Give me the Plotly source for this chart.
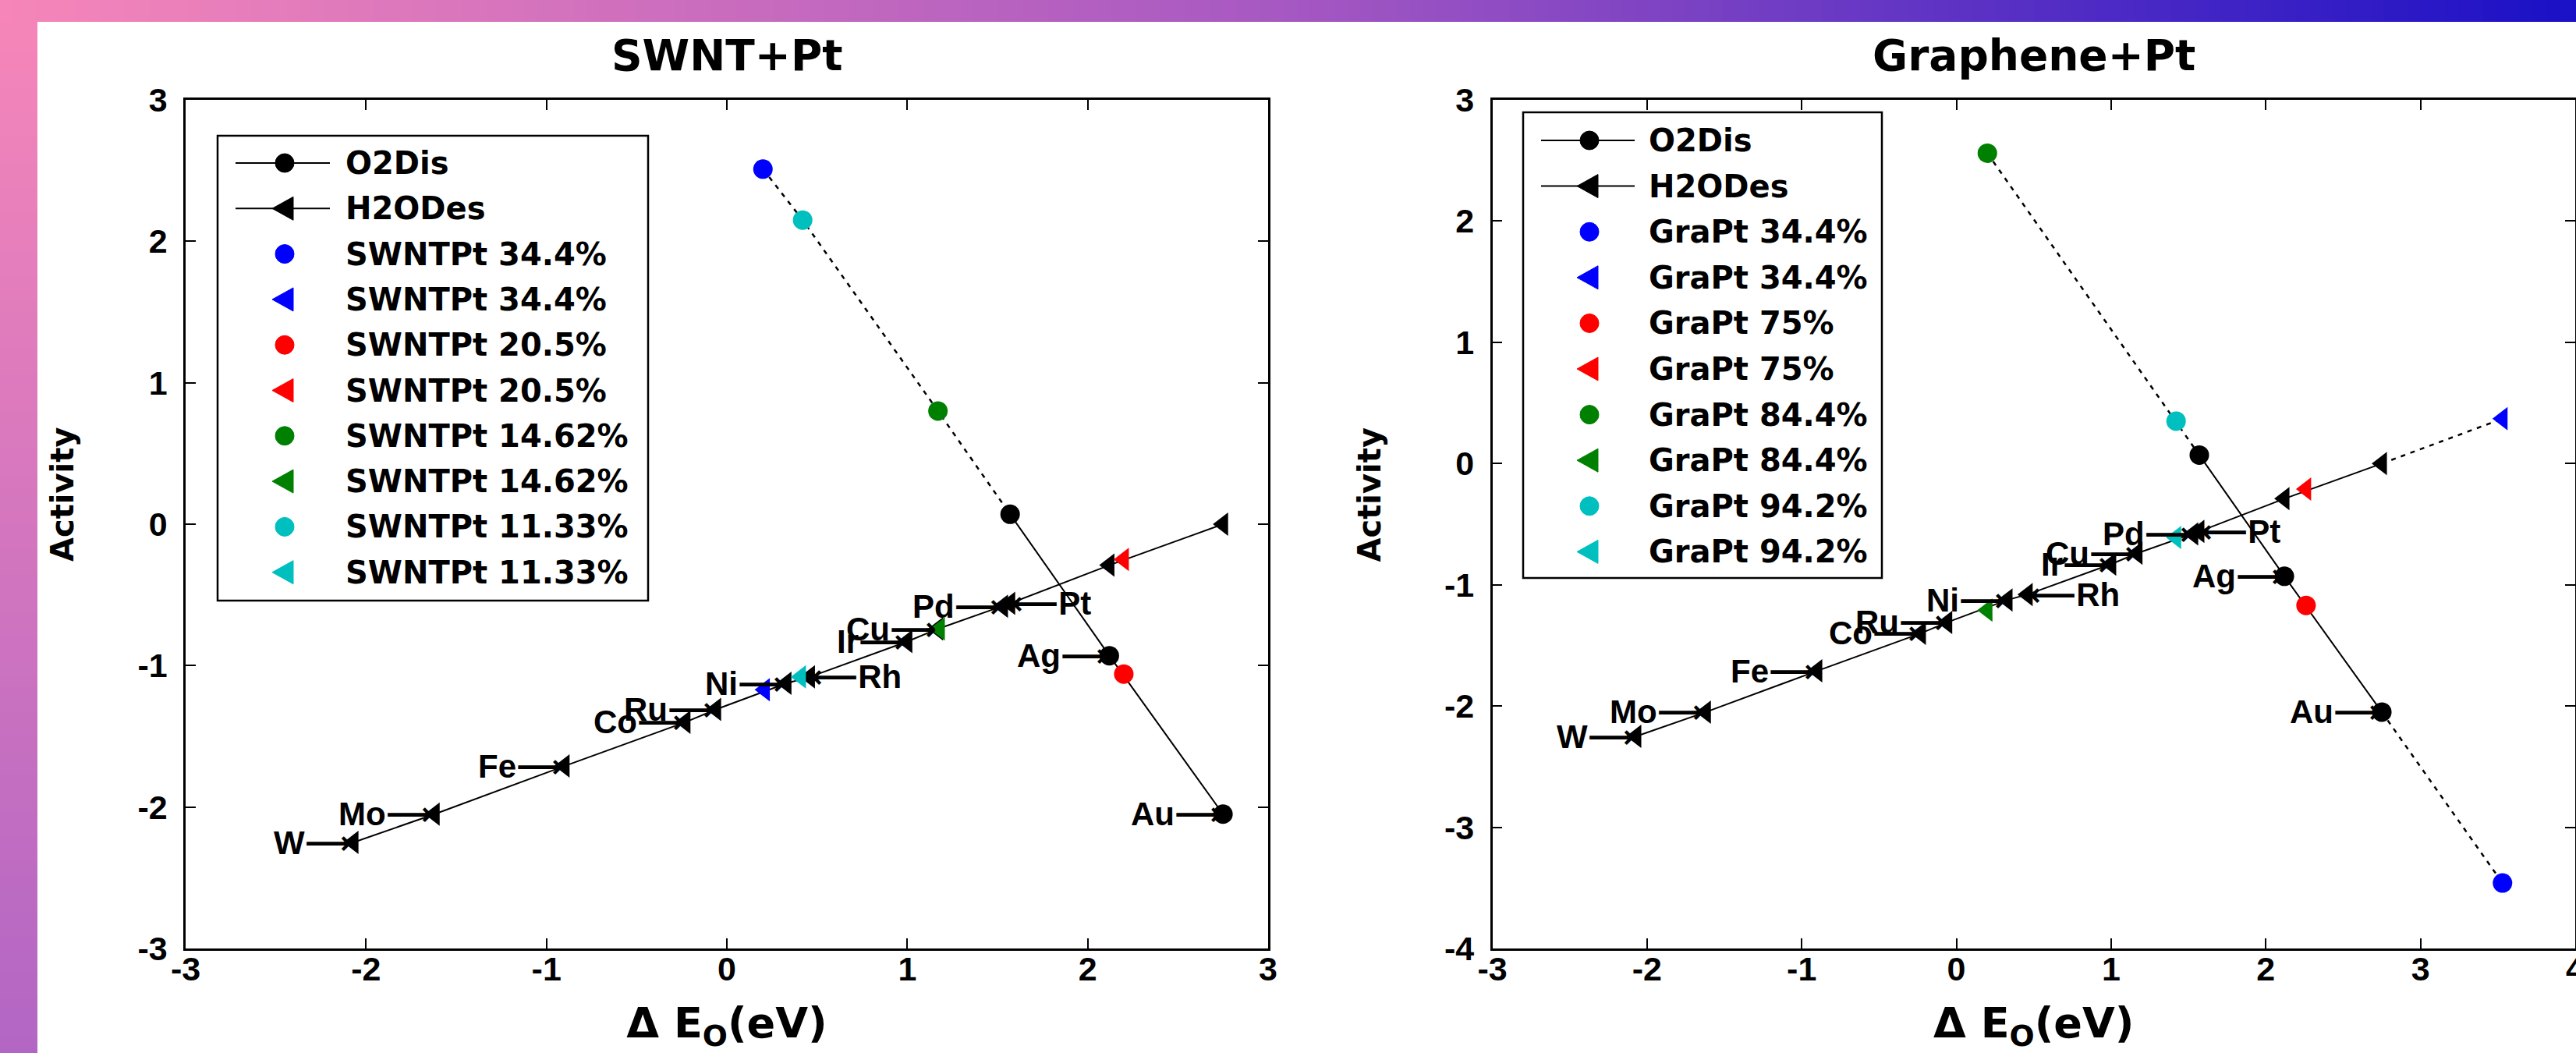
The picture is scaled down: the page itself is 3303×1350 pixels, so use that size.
import plotly.graph_objects as go

W, H = 3303, 1350

# ---------------- data ----------------
metals = ["W", "Mo", "Fe", "Co", "Ru", "Ni", "Rh", "Ir", "Cu", "Pd", "Pt", "Ag", "Au"]
h2odes_dEO = [-2.07, -1.62, -0.90, -0.23, -0.06, 0.33, 0.46, 1.00, 1.17, 1.53, 1.57, 2.12, 2.75]
h2odes_act = [-2.25, -2.05, -1.71, -1.40, -1.31, -1.125, -1.08, -0.83, -0.74, -0.58, -0.56, -0.29, 0.00]

o2dis_metals = ["Pt", "Ag", "Au"]
o2dis_dEO = [1.57, 2.12, 2.75]
o2dis_act = [0.07, -0.93, -2.05]

# metal labels: which curve they point at and on which side the label sits
label_metals = ["W", "Mo", "Fe", "Co", "Ru", "Ni", "Rh", "Ir", "Cu", "Pd", "Pt", "Ag", "Au"]
label_curve = ["H2ODes"] * 11 + ["O2Dis", "O2Dis"]
label_side = ["left"] * 6 + ["right"] + ["left"] * 3 + ["right"] + ["left", "left"]

sample_colors = ["#0000ff", "#ff0000", "#008000", "#00bfbf"]

swnt_names = ["SWNTPt 34.4%", "SWNTPt 20.5%", "SWNTPt 14.62%", "SWNTPt 11.33%"]
swnt_o2dis_dEO = [0.20, 2.20, 1.17, 0.42]
swnt_o2dis_act = [2.51, -1.06, 0.80, 2.15]
swnt_h2odes_dEO = [0.21, 2.20, 1.18, 0.41]
swnt_h2odes_act = [-1.17, -0.25, -0.74, -1.08]

gra_names = ["GraPt 34.4%", "GraPt 75%", "GraPt 84.4%", "GraPt 94.2%"]
gra_o2dis_dEO = [3.53, 2.26, 0.20, 1.42]
gra_o2dis_act = [-3.46, -1.17, 2.56, 0.35]
gra_h2odes_dEO = [3.53, 2.26, 0.20, 1.42]
gra_h2odes_act = [0.37, -0.21, -1.21, -0.61]

x_ticks_swnt = [-3, -2, -1, 0, 1, 2, 3]
y_ticks_swnt = [-3, -2, -1, 0, 1, 2, 3]
x_ticks_gra = [-3, -2, -1, 0, 1, 2, 3, 4]
y_ticks_gra = [-4, -3, -2, -1, 0, 1, 2, 3]

# ---------------- styling ----------------
TITLE_FONT = "DejaVu Sans"
TICK_FONT = "Liberation Sans"
LABEL_FONT = "Liberation Sans, DejaVu Sans"
LEG_FONT = "DejaVu Sans"


def px(x):
    return x / W


def py(y):
    return 1 - y / H


fig = go.Figure()
shapes = []
annotations = []

# ---------------- decorative gradient frame ----------------
TOP_BAND = 28
LEFT_BAND = 48
top_stops = [(0.0, (246, 134, 185)), (0.5, (166, 88, 194)), (1.0, (26, 16, 198))]
left_stops = [(0.0, (246, 134, 185)), (1.0, (178, 102, 196))]


def grad(stops, t):
    for (t0, c0), (t1, c1) in zip(stops[:-1], stops[1:]):
        if t <= t1:
            f = (t - t0) / (t1 - t0)
            return "rgb(%d,%d,%d)" % tuple(round(a + (b - a) * f) for a, b in zip(c0, c1))
    return "rgb(%d,%d,%d)" % stops[-1][1]


STEP = 16
for ys in range(0, H, STEP):
    shapes.append(dict(type="rect", xref="paper", yref="paper", x0=0, x1=px(LEFT_BAND),
                       y0=py(min(ys + STEP + 1, H)), y1=py(ys),
                       fillcolor=grad(left_stops, (ys + STEP / 2) / H),
                       line=dict(width=0), layer="below"))
for xs in range(0, W, STEP):
    shapes.append(dict(type="rect", xref="paper", yref="paper", x0=px(xs), x1=px(min(xs + STEP + 1, W)),
                       y0=py(TOP_BAND), y1=1,
                       fillcolor=grad(top_stops, (xs + STEP / 2) / W),
                       line=dict(width=0), layer="below"))

# ---------------- panels ----------------
panels = [
    dict(title="SWNT+Pt", xa="x", ya="y", xdom=(238, 1626), xr=[-3, 3], yr=[-3, 3],
         xt=x_ticks_swnt, yt=y_ticks_swnt,
         names=swnt_names, o2x=swnt_o2dis_dEO, o2y=swnt_o2dis_act,
         h2x=swnt_h2odes_dEO, h2y=swnt_h2odes_act,
         leg=dict(box=(279, 174, 831, 770), row0=209, step=58.3, line=(23, 144), mark=86, text=162)),
    dict(title="Graphene+Pt", xa="x2", ya="y2", xdom=(1913.5, 3302), xr=[-3, 4], yr=[-4, 3],
         xt=x_ticks_gra, yt=y_ticks_gra,
         names=gra_names, o2x=gra_o2dis_dEO, o2y=gra_o2dis_act,
         h2x=gra_h2odes_dEO, h2y=gra_h2odes_act,
         leg=dict(box=(1953, 144, 2413, 741), row0=180, step=58.6, line=(23, 143), mark=85, text=159)),
]

Y_TOP, Y_BOT = 128, 1216
YTITLE_OFFSET = 158   # px left of the y axis
YTITLE_Y = 634        # px from top


def extension(mx, my, sx, sy):
    """dotted continuation of a metal line out to the sample points beyond it"""
    xs, ys = [], []
    i_lo = mx.index(min(mx))
    i_hi = mx.index(max(mx))
    lo = sorted((x, y) for x, y in zip(sx, sy) if x < mx[i_lo])
    hi = sorted((x, y) for x, y in zip(sx, sy) if x > mx[i_hi])
    if lo:
        pts = lo + [(mx[i_lo], my[i_lo])]
        xs += [p[0] for p in pts] + [None]
        ys += [p[1] for p in pts] + [None]
    if hi:
        pts = [(mx[i_hi], my[i_hi])] + hi
        xs += [p[0] for p in pts] + [None]
        ys += [p[1] for p in pts] + [None]
    return xs, ys


DOT = dict(color="black", width=2.5, dash="6px,7px")

for p in panels:
    xa, ya = p["xa"], p["ya"]
    ex, ey = extension(o2dis_dEO, o2dis_act, p["o2x"], p["o2y"])
    if ex:
        fig.add_trace(go.Scatter(x=ex, y=ey, mode="lines", line=DOT, xaxis=xa, yaxis=ya,
                                 showlegend=False, hoverinfo="skip"))
    ex, ey = extension(h2odes_dEO, h2odes_act, p["h2x"], p["h2y"])
    if ex:
        fig.add_trace(go.Scatter(x=ex, y=ey, mode="lines", line=DOT, xaxis=xa, yaxis=ya,
                                 showlegend=False, hoverinfo="skip"))
    fig.add_trace(go.Scatter(x=o2dis_dEO, y=o2dis_act, text=o2dis_metals, name="O2Dis",
                             mode="lines+markers", line=dict(color="black", width=2),
                             marker=dict(symbol="circle", size=25, color="black"),
                             xaxis=xa, yaxis=ya))
    fig.add_trace(go.Scatter(x=h2odes_dEO, y=h2odes_act, text=metals, name="H2ODes",
                             mode="lines+markers", line=dict(color="black", width=2),
                             marker=dict(symbol="triangle-left", size=26, color="black"),
                             xaxis=xa, yaxis=ya))
    for name, col, cx, cy, tx, ty in zip(p["names"], sample_colors, p["o2x"], p["o2y"], p["h2x"], p["h2y"]):
        fig.add_trace(go.Scatter(x=[cx], y=[cy], name=name, mode="markers",
                                 marker=dict(symbol="circle", size=25, color=col),
                                 xaxis=xa, yaxis=ya))
        fig.add_trace(go.Scatter(x=[tx], y=[ty], name=name, mode="markers",
                                 marker=dict(symbol="triangle-left", size=26, color=col),
                                 xaxis=xa, yaxis=ya))

    # metal labels with arrows
    for m, curve, side in zip(label_metals, label_curve, label_side):
        if curve == "H2ODes":
            i = metals.index(m)
            x, y = h2odes_dEO[i], h2odes_act[i]
        else:
            i = o2dis_metals.index(m)
            x, y = o2dis_dEO[i], o2dis_act[i]
        text = m + "\u27f6" if side == "left" else "\u27f5" + m
        annotations.append(dict(x=x, y=y, xref=xa, yref=ya, text=text, showarrow=False,
                                xanchor="right" if side == "left" else "left", yanchor="middle",
                                font=dict(family=LABEL_FONT, size=42, color="black", weight="bold")))

    # panel title
    annotations.append(dict(x=px((p["xdom"][0] + p["xdom"][1]) / 2), y=py(71), xref="paper", yref="paper",
                            text="<b>%s</b>" % p["title"], showarrow=False, xanchor="center", yanchor="middle",
                            font=dict(family=TITLE_FONT, size=55, color="black")))

    # y-axis title
    annotations.append(dict(x=px(p["xdom"][0] - YTITLE_OFFSET), y=py(YTITLE_Y), xref="paper", yref="paper",
                            text="<b>Activity</b>", textangle=-90, showarrow=False,
                            xanchor="center", yanchor="middle",
                            font=dict(family=TITLE_FONT, size=40, color="black")))

    # legend (box, keys, labels)
    L = p["leg"]
    bx0, by0, bx1, by1 = L["box"]
    shapes.append(dict(type="rect", xref="paper", yref="paper", x0=px(bx0), x1=px(bx1),
                       y0=py(by1), y1=py(by0), fillcolor="white",
                       line=dict(color="black", width=2.5), layer="below"))
    entries = [("O2Dis", "black", "circle", True), ("H2ODes", "black", "tri", True)]
    for name, col in zip(p["names"], sample_colors):
        entries.append((name, col, "circle", False))
        entries.append((name, col, "tri", False))
    for k, (name, col, sym, has_line) in enumerate(entries):
        cy = L["row0"] + k * L["step"]
        cx = bx0 + L["mark"]
        if has_line:
            shapes.append(dict(type="line", xref="paper", yref="paper",
                               x0=px(bx0 + L["line"][0]), x1=px(bx0 + L["line"][1]),
                               y0=py(cy), y1=py(cy), line=dict(color="black", width=2), layer="below"))
        if sym == "circle":
            r = 12
            shapes.append(dict(type="circle", xref="paper", yref="paper",
                               x0=px(cx - r), x1=px(cx + r), y0=py(cy + r), y1=py(cy - r),
                               fillcolor=col, line=dict(color=col, width=1), layer="below"))
        else:
            path = "M%.6f,%.6f L%.6f,%.6f L%.6f,%.6f Z" % (
                px(cx - 16), py(cy), px(cx + 11), py(cy - 15), px(cx + 11), py(cy + 15))
            shapes.append(dict(type="path", xref="paper", yref="paper", path=path,
                               fillcolor=col, line=dict(color=col, width=1), layer="below"))
        annotations.append(dict(x=px(bx0 + L["text"]), y=py(cy), xref="paper", yref="paper",
                                text="<b>%s</b>" % name, showarrow=False, xanchor="left", yanchor="middle",
                                font=dict(family=LEG_FONT, size=40, color="black")))

axis_common = dict(showline=True, linecolor="black", linewidth=2.5, mirror="ticks",
                   ticks="inside", ticklen=13, tickwidth=2, tickcolor="black",
                   showgrid=False, zeroline=False, automargin=False,
                   tickfont=dict(family=TICK_FONT, size=43, color="black"))
xtitle = dict(text="<b>\u0394 E<sub>O</sub>(eV)</b>", standoff=33,
              font=dict(family=TITLE_FONT, size=54, color="black"))

layout_axes = {}
for i, p in enumerate(panels):
    sx = "" if i == 0 else str(i + 1)
    layout_axes["xaxis" + sx] = dict(domain=[px(p["xdom"][0]), px(p["xdom"][1])], range=p["xr"],
                                     tickvals=p["xt"], ticktext=["<b>%d</b>" % v for v in p["xt"]],
                                     anchor="y" + sx, title=xtitle, ticklabelstandoff=-13,
                                     ticklabeloverflow="allow", **axis_common)
    layout_axes["yaxis" + sx] = dict(domain=[py(Y_BOT), py(Y_TOP)], range=p["yr"],
                                     tickvals=p["yt"], ticktext=["<b>%d</b>" % v for v in p["yt"]],
                                     anchor="x" + sx, ticklabelstandoff=12, **axis_common)

fig.update_layout(width=W, height=H, autosize=False, margin=dict(l=0, r=0, t=0, b=0),
                  paper_bgcolor="white", plot_bgcolor="rgba(0,0,0,0)", showlegend=False,
                  shapes=shapes, annotations=annotations, **layout_axes)

fig.write_html("out.html", config={"displayModeBar": False},
               post_script="document.body.style.margin='0px';document.body.style.overflow='hidden';")
